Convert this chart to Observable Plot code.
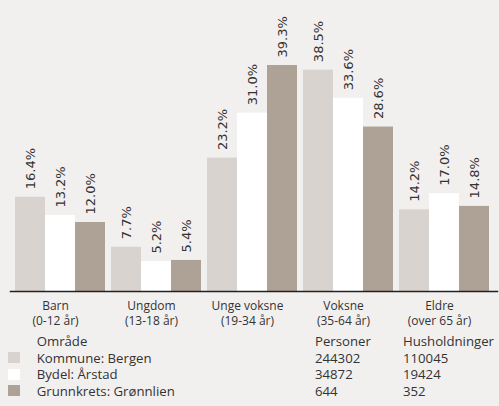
<!DOCTYPE html>
<html>
<head>
<meta charset="utf-8">
<script src="https://cdn.jsdelivr.net/npm/d3@7"></script>
<script src="https://cdn.jsdelivr.net/npm/@observablehq/plot@0.6"></script>
<style>
  html, body { margin: 0; padding: 0; background: #f2f0ef; }
  #chart { width: 499px; }
  #chart svg { display: block; }
  .legend { width: 499px; font-family: "Open Sans", sans-serif; font-size: 13.2px; color: #333; }
  .row { display: flex; align-items: center; height: 16.5px; white-space: nowrap; }
  .sw { margin-left: 8px; width: 12px; height: 11px; flex: none; }
  .name { margin-left: 16.7px; width: 278.3px; flex: none; }
  .p { width: 88px; flex: none; }
</style>
</head>
<body>
<div id="chart"></div>
<div class="legend" id="legend"></div>
<script>
const categories = ["Barn", "Ungdom", "Unge voksne", "Voksne", "Eldre"];
const categoryLabels = ["Barn\n(0-12 år)", "Ungdom\n(13-18 år)", "Unge voksne\n(19-34 år)", "Voksne\n(35-64 år)", "Eldre\n(over 65 år)"];
const series = ["Kommune: Bergen", "Bydel: Årstad", "Grunnkrets: Grønnlien"];
const bergen = [16.4, 7.7, 23.2, 38.5, 14.2];
const arstad = [13.2, 5.2, 31.0, 33.6, 17.0];
const gronnlien = [12.0, 5.4, 39.3, 28.6, 14.8];
const personer = [244302, 34872, 644];
const husholdninger = [110045, 19424, 352];
const colors = ["#d8d3cf", "#ffffff", "#aea196"];

const seriesValues = [bergen, arstad, gronnlien];
const rows = [];
categories.forEach((c, i) => {
  series.forEach((s, j) => rows.push({cat: c, series: s, value: seriesValues[j][i]}));
});
const labelRows = categories.map((c, i) => ({cat: c, label: categoryLabels[i]}));

const chart = Plot.plot({
  width: 499,
  height: 333,
  marginLeft: 12,
  marginRight: 7,
  marginTop: 3.5,
  marginBottom: 42,
  style: {background: "transparent", color: "#333"},
  fx: {domain: categories, padding: 0.042, axis: null},
  x: {domain: series, padding: 0, axis: null},
  y: {domain: [0, 50], axis: null},
  color: {domain: series, range: colors},
  marks: [
    Plot.barY(rows, {fx: "cat", x: "series", y: "value", fill: "series"}),
    Plot.text(rows, {
      fx: "cat", x: "series", y: "value",
      text: d => d.value.toFixed(1) + "%",
      rotate: -90, textAnchor: "start", lineAnchor: "middle", dy: -8,
      fontFamily: "DejaVu Sans", fontSize: 13, fill: "#333"
    }),
    Plot.text(labelRows, {
      fx: "cat", text: "label", frameAnchor: "bottom",
      lineAnchor: "top", dy: 8, dx: -5, lineHeight: 1.25,
      fontFamily: "Open Sans", fontSize: 12, fill: "#333"
    }),
    Plot.frame({facet: "super", anchor: "bottom", stroke: "#222", strokeWidth: 1.5, insetLeft: -4, insetRight: -7})
  ]
});
document.getElementById("chart").appendChild(chart);

const legend = document.getElementById("legend");
function addRow(color, name, p, h) {
  const r = document.createElement("div");
  r.className = "row";
  const sw = document.createElement("span");
  sw.className = "sw";
  if (color) sw.style.background = color;
  const n = document.createElement("span"); n.className = "name"; n.textContent = name;
  const pe = document.createElement("span"); pe.className = "p"; pe.textContent = p;
  const he = document.createElement("span"); he.textContent = h;
  r.append(sw, n, pe, he);
  legend.appendChild(r);
}
addRow(null, "Område", "Personer", "Husholdninger");
series.forEach((s, i) => addRow(colors[i], s, String(personer[i]), String(husholdninger[i])));
</script>
</body>
</html>
